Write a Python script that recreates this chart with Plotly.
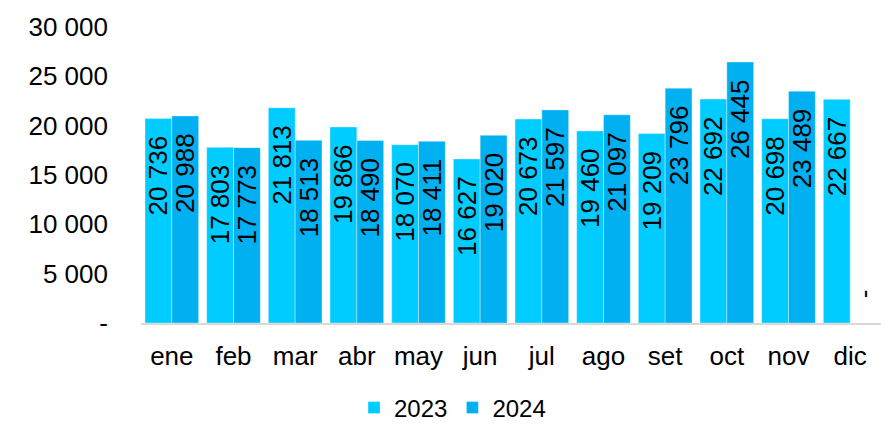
import plotly.graph_objects as go

months = ["ene", "feb", "mar", "abr", "may", "jun", "jul", "ago", "set", "oct", "nov", "dic"]
v2023 = [20736, 17803, 21813, 19866, 18070, 16627, 20673, 19460, 19209, 22692, 20698, 22667]
v2024 = [20988, 17773, 18513, 18490, 18411, 19020, 21597, 21097, 23796, 26445, 23489, 0]
ytickvals = [0, 5000, 10000, 15000, 20000, 25000, 30000]
yticktext = ["-", "5 000", "10 000", "15 000", "20 000", "25 000", "30 000"]

NB = "\u00a0"


def fmt(v):
    return NB * 3 + "-" if v == 0 else f"{v:,}".replace(",", " ") + NB * 2


fig = go.Figure()
for name, vals, color in [("2023", v2023, "#00CCFF"), ("2024", v2024, "#00B0F0")]:
    fig.add_trace(go.Bar(
        name=name, x=months, y=vals,
        marker=dict(color=color, line=dict(color="rgba(255,255,255,0.35)", width=1)),
        text=[fmt(v) for v in vals],
        textposition=["outside" if v == 0 else "inside" for v in vals],
        insidetextanchor="end",
        textangle=-90,
        constraintext="none",
        textfont=dict(family="Liberation Sans, Arial", size=26, color="black"),
        cliponaxis=False,
    ))

fig.update_layout(
    width=889, height=426,
    margin=dict(l=133, r=16, t=19, b=111, autoexpand=False),
    barmode="group", bargap=0.13, bargroupgap=0,
    plot_bgcolor="white", paper_bgcolor="white",
    font=dict(family="Liberation Sans, Arial", size=26, color="black"),
    showlegend=True,
    legend=dict(orientation="h", xref="container", yref="container",
                x=0.5, xanchor="center", y=0.061, yanchor="middle",
                font=dict(size=24), itemwidth=30, traceorder="normal"),
)
fig.update_xaxes(showline=True, linecolor="#D9D9D9", linewidth=2, showgrid=False,
                 ticks="", tickfont=dict(size=26), ticklabelstandoff=9)
fig.update_yaxes(range=[0, 30000], tickvals=ytickvals, ticktext=yticktext,
                 showgrid=False, zeroline=False, showline=False,
                 tickfont=dict(size=26), ticklabelstandoff=32)

fig.write_html("out.html")
